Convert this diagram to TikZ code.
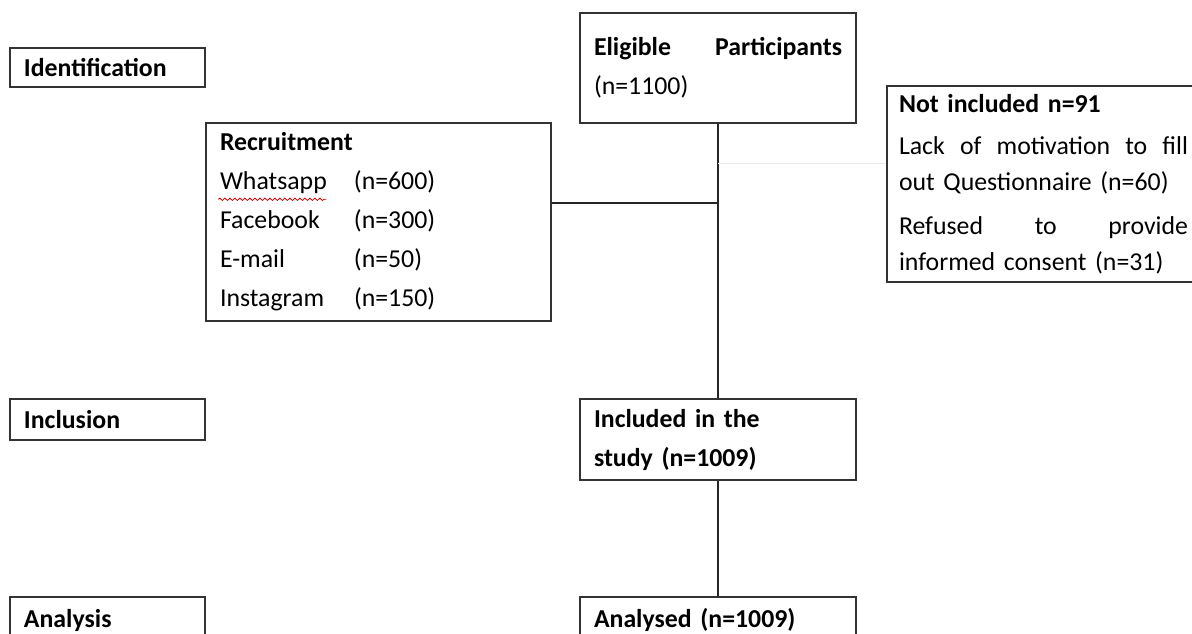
\documentclass[tikz,border=0pt]{standalone}
\usepackage{fontspec}
\setmainfont{Carlito}
\usetikzlibrary{decorations.pathmorphing}

\begin{document}
\begin{tikzpicture}[x=0.5pt,y=-0.5pt,
        bx/.style={draw=black!80, line width=0.7pt, inner xsep=7pt, inner ysep=0pt,
                        align=left, font=\fontsize{12.9}{19.5}\selectfont},
        stage/.style={bx, text width=83.5pt},
        flow/.style={bx, text width=124pt},
        ln/.style={draw=black!85, line width=0.6pt}]
    \useasboundingbox (0,0) rectangle (1192,633);
    \clip (0,0) rectangle (1192,633);

    \node[stage, minimum height=19.5pt] (ident) at (107.5,67.5) {\textbf{Identification}};
    \node[stage, minimum height=20.5pt] (inclu) at (107.5,419.5) {\textbf{Inclusion}};
    \node[stage, minimum height=23pt] (analy) at (107.5,620) {\textbf{Analysis}};

    \node[flow, minimum height=55pt] (elig) at (718,68)
        {\textbf{Eligible}\hfill\textbf{Participants}\\(n=1100)};
    \node[bx, text width=158.5pt, minimum height=99pt] (recruit) at (378.5,222)
        {\textbf{Recruitment}\\
         \makebox[67pt][l]{Whatsapp}(n=600)\\
         \makebox[67pt][l]{Facebook}(n=300)\\
         \makebox[67pt][l]{E-mail}(n=50)\\
         \makebox[67pt][l]{Instagram}(n=150)};
    \node[bx, inner xsep=6pt, text width=144.5pt, minimum height=98pt,
          font=\fontsize{12.9}{18}\selectfont] (notinc) at (1043.5,184)
        {\textbf{Not included n=91}\\[3pt]
         Lack\hfill of\hfill motivation\hfill to\hfill fill\\
         out Questionnaire (n=60)\\[4pt]
         Refused\hfill to\hfill provide\\
         informed consent (n=31)};
    \node[flow, minimum height=40.5pt] (incstudy) at (718,439.5)
        {\textbf{Included in the}\\\textbf{study (n=1009)}};
    \node[flow, minimum height=23pt] (analysed) at (718,620) {\textbf{Analysed (n=1009)}};

    \coordinate (joint) at (718,203);
    \coordinate (tap) at (718,163);
    \draw[ln] (elig) -- (incstudy);
    \draw[ln] (incstudy) -- (analysed);
    \draw[ln] (recruit.east |- joint) -- (joint);
    \draw[black!8, line width=0.5pt] (tap) -- (notinc.west |- tap);

    \draw[red!80!black, line width=0.4pt, decorate,
          decoration={snake, amplitude=0.6pt, segment length=2.5pt}]
        ([shift={(13,77)}]recruit.north west) -- ++(108,0);
\end{tikzpicture}
\end{document}
